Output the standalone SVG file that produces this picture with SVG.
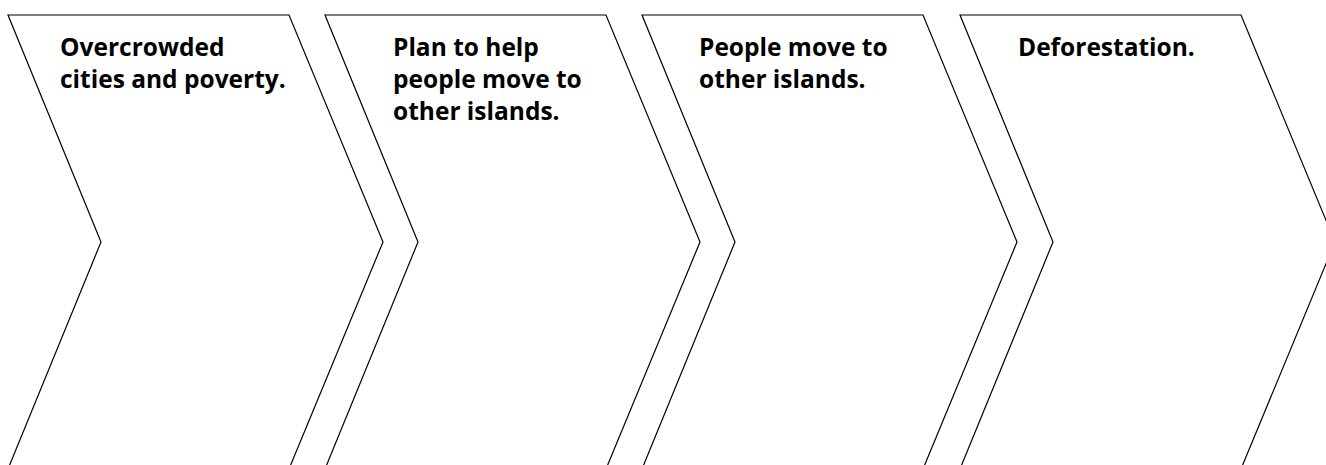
<svg xmlns="http://www.w3.org/2000/svg" width="1326" height="465" viewBox="0 0 1326 465">
<style>
.chev{fill:#fff;stroke:#000;stroke-width:1.2;stroke-linejoin:miter}
.lbl{font-family:"Open Sans","Noto Sans","DejaVu Sans",sans-serif;font-weight:700;font-size:24.5px;fill:#000}
</style>
<rect width="1326" height="465" fill="#fff"/>
<g id="connectors"></g>
<g id="step1">
<polygon class="chev" points="8,15 289,15 383,242 289,469 8,469 101,242"/>
<text class="lbl" x="60" y="56">Overcrowded</text>
<text class="lbl" x="60" y="88">cities and poverty.</text>
</g>
<g id="step2">
<polygon class="chev" points="325,15 606,15 700,242 606,469 325,469 418,242"/>
<text class="lbl" x="393" y="56">Plan to help</text>
<text class="lbl" x="393" y="88">people move to</text>
<text class="lbl" x="393" y="120">other islands.</text>
</g>
<g id="step3">
<polygon class="chev" points="642,15 923,15 1017,242 923,469 642,469 735,242"/>
<text class="lbl" x="699" y="56">People move to</text>
<text class="lbl" x="699" y="88">other islands.</text>
</g>
<g id="step4">
<polygon class="chev" points="960,15 1241,15 1335,242 1241,469 960,469 1053,242"/>
<text class="lbl" x="1018" y="56">Deforestation.</text>
</g>
</svg>
